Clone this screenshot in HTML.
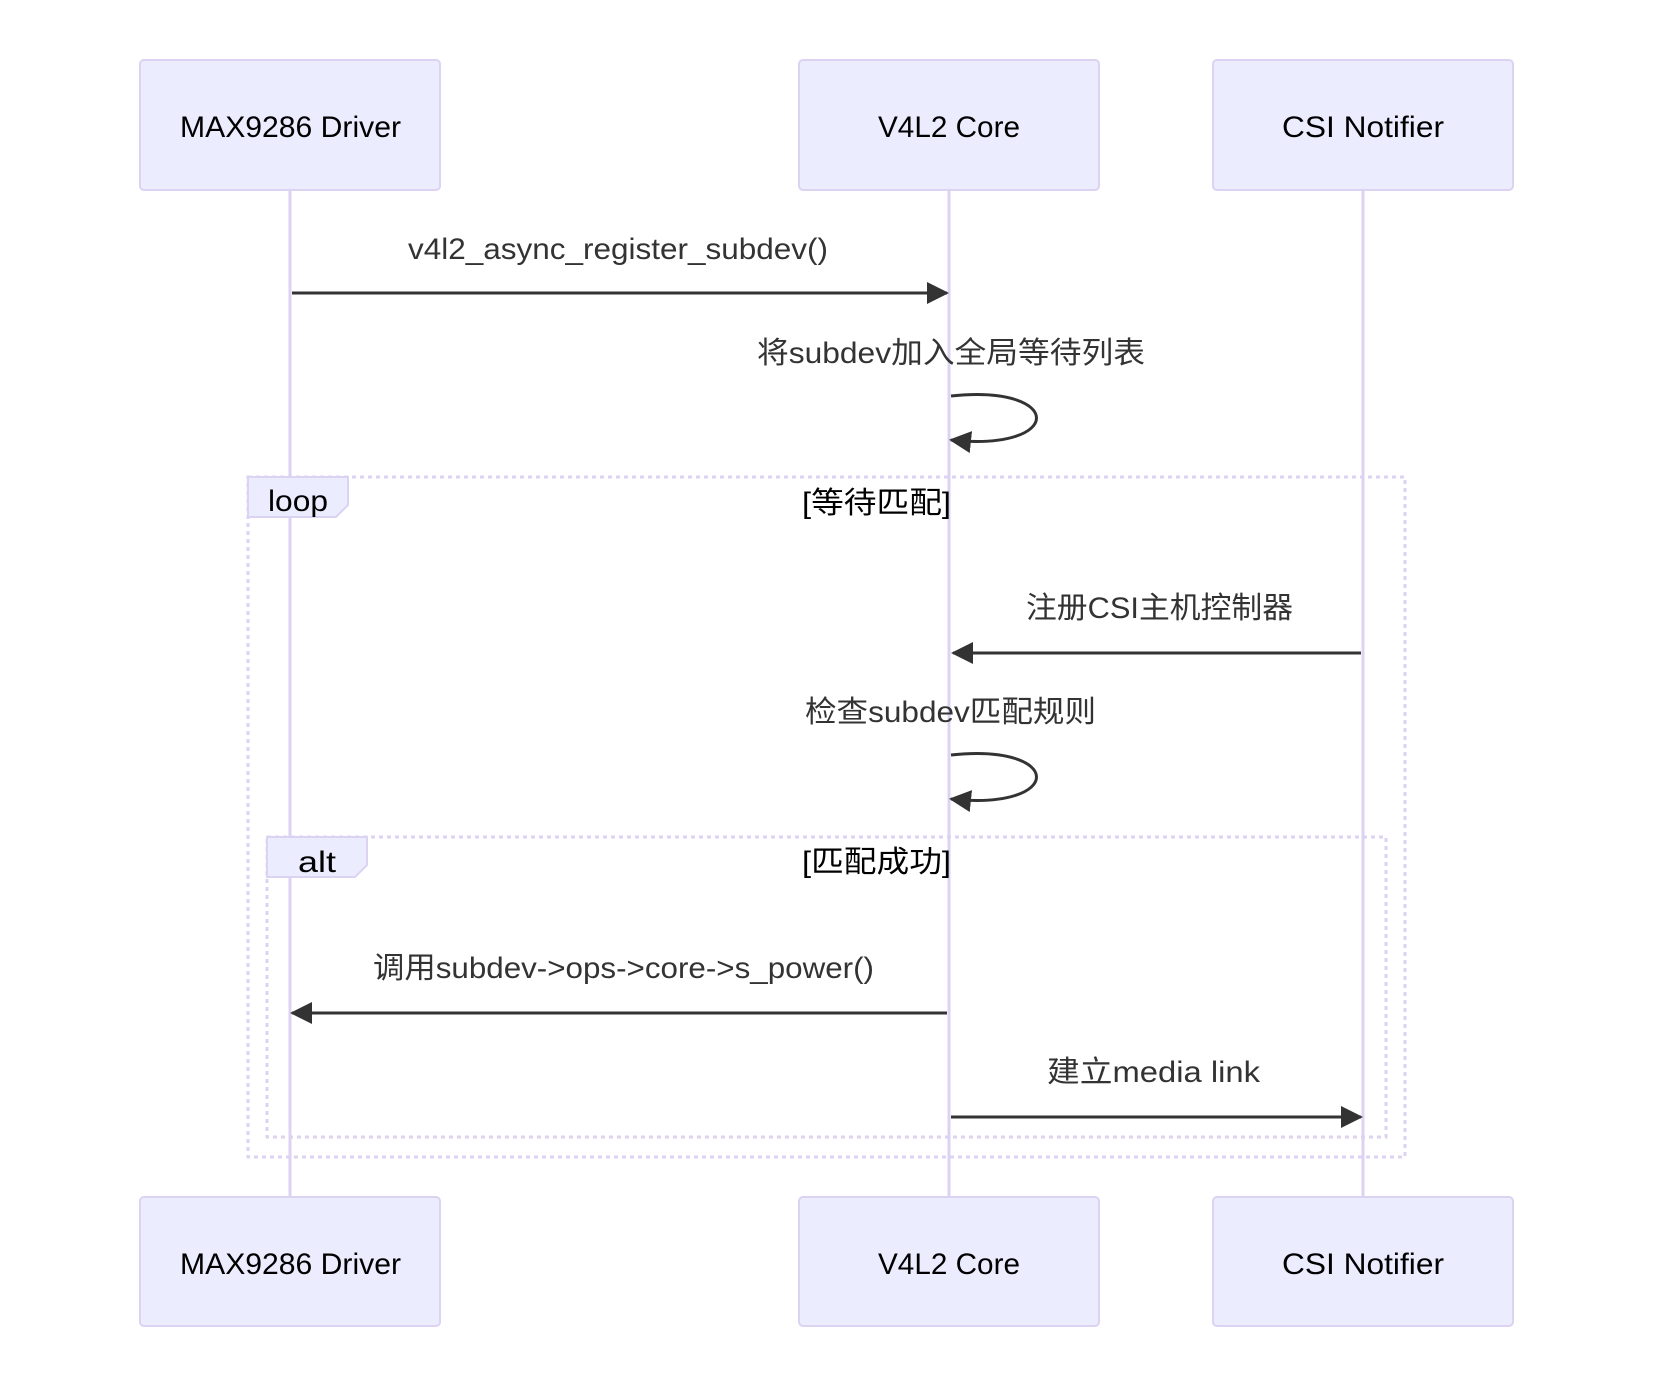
<!DOCTYPE html>
<html><head><meta charset="utf-8"><style>
html,body{margin:0;padding:0;background:#fff;}
svg{display:block;}
text{font-family:"Liberation Sans","Noto Sans CJK SC",sans-serif;}
</style></head><body>
<svg width="1654" height="1390" viewBox="0 0 1654 1390" xmlns="http://www.w3.org/2000/svg">
<defs>
<marker id="ah" markerWidth="12" markerHeight="12" refX="10" refY="6" orient="auto" markerUnits="userSpaceOnUse">
<path d="M0,0 L12,6 L0,12 z" fill="#333"/>
</marker>
<marker id="ah2" markerWidth="22" markerHeight="22" refX="20" refY="11" orient="auto" markerUnits="userSpaceOnUse">
<path d="M0,0 L22,11 L0,22 z" fill="#333"/>
</marker>
</defs>
<!-- lifelines -->
<g stroke="#dcd2f2" stroke-width="3">
<line x1="290" y1="190" x2="290" y2="1197"/>
<line x1="949" y1="190" x2="949" y2="1197"/>
<line x1="1363" y1="190" x2="1363" y2="1197"/>
</g>
<!-- actors -->
<g fill="#ececff" stroke="#dcd2f2" stroke-width="2">
<rect x="140" y="60" width="300" height="130" rx="4"/>
<rect x="799" y="60" width="300" height="130" rx="4"/>
<rect x="1213" y="60" width="300" height="130" rx="4"/>
<rect x="140" y="1197" width="300" height="129" rx="4"/>
<rect x="799" y="1197" width="300" height="129" rx="4"/>
<rect x="1213" y="1197" width="300" height="129" rx="4"/>
</g>
<g fill="#000" font-size="30">
<text x="180" y="137" textLength="221" lengthAdjust="spacingAndGlyphs">MAX9286 Driver</text>
<text x="878" y="137" textLength="142" lengthAdjust="spacingAndGlyphs">V4L2 Core</text>
<text x="1282" y="137" textLength="162" lengthAdjust="spacingAndGlyphs">CSI Notifier</text>
<text x="180" y="1274" textLength="221" lengthAdjust="spacingAndGlyphs">MAX9286 Driver</text>
<text x="878" y="1274" textLength="142" lengthAdjust="spacingAndGlyphs">V4L2 Core</text>
<text x="1282" y="1274" textLength="162" lengthAdjust="spacingAndGlyphs">CSI Notifier</text>
</g>
<!-- loop / alt boxes -->
<g fill="none" stroke="#dcd2f2" stroke-width="3" stroke-dasharray="4,4">
<rect x="248" y="477" width="1157" height="680"/>
<rect x="267" y="837" width="1119" height="300"/>
</g>
<path d="M248,477 L348,477 L348,505 L336,517 L248,517 z" fill="#ececff" stroke="#dcd2f2" stroke-width="2"/>
<path d="M267,837 L367,837 L367,865 L355,877 L267,877 z" fill="#ececff" stroke="#dcd2f2" stroke-width="2"/>
<g font-size="30">
<text x="268" y="511" fill="#000" textLength="60" lengthAdjust="spacingAndGlyphs">loop</text>
<text x="298" y="872" fill="#000" textLength="38" lengthAdjust="spacingAndGlyphs">alt</text>
<text x="802" y="513" fill="#000" textLength="149" lengthAdjust="spacingAndGlyphs">[等待匹配]</text>
<text x="802" y="872" fill="#000" textLength="149" lengthAdjust="spacingAndGlyphs">[匹配成功]</text>
</g>
<!-- messages -->
<g stroke="#333" stroke-width="3" fill="none">
<line x1="292" y1="293" x2="947" y2="293" marker-end="url(#ah2)"/>
<path d="M951,396 C1065,384 1065,452 951,440" marker-end="url(#ah2)"/>
<line x1="1361" y1="653" x2="953" y2="653" marker-end="url(#ah2)"/>
<path d="M951,755 C1065,743 1065,811 951,799" marker-end="url(#ah2)"/>
<line x1="947" y1="1013" x2="292" y2="1013" marker-end="url(#ah2)"/>
<line x1="951" y1="1117" x2="1361" y2="1117" marker-end="url(#ah2)"/>
</g>
<g fill="#333" font-size="30">
<text x="408" y="259" textLength="420" lengthAdjust="spacingAndGlyphs">v4l2_async_register_subdev()</text>
<text x="757" y="363" textLength="388" lengthAdjust="spacingAndGlyphs">将subdev加入全局等待列表</text>
<text x="1026" y="618" textLength="267" lengthAdjust="spacingAndGlyphs">注册CSI主机控制器</text>
<text x="805" y="722" textLength="291" lengthAdjust="spacingAndGlyphs">检查subdev匹配规则</text>
<text x="373" y="978" textLength="501" lengthAdjust="spacingAndGlyphs">调用subdev-&gt;ops-&gt;core-&gt;s_power()</text>
<text x="1047" y="1082" textLength="213" lengthAdjust="spacingAndGlyphs">建立media link</text>
</g>
</svg>
</body></html>
